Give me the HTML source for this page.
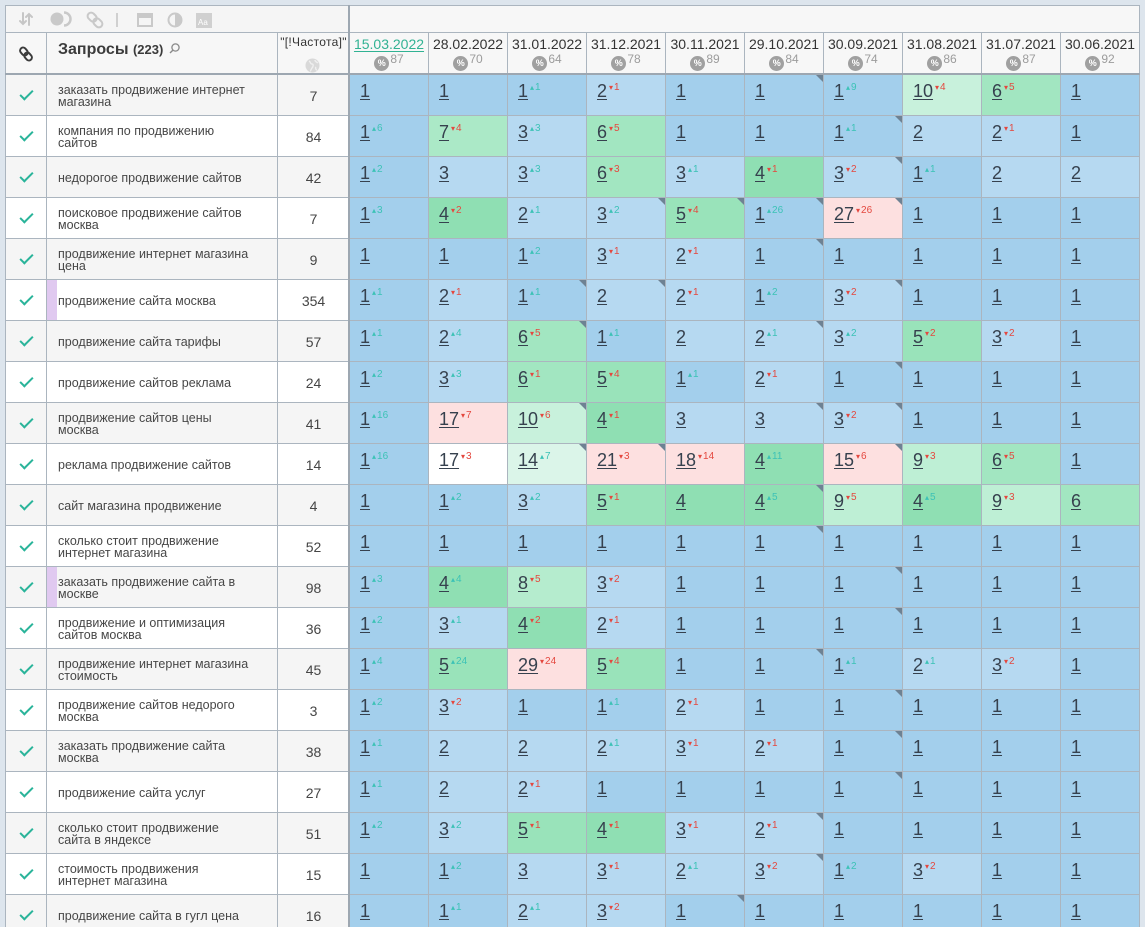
<!DOCTYPE html>
<html><head><meta charset="utf-8"><style>
*{margin:0;padding:0;box-sizing:border-box}
html,body{width:1145px;height:927px;overflow:hidden;background:#dde5ed;font-family:"Liberation Sans","DejaVu Sans",sans-serif}
#g{position:absolute;left:5px;top:5px;width:1135px;height:922px;overflow:hidden;display:grid;grid-template-columns:40px 230px 71px repeat(10,78px);grid-template-rows:26px 41px repeat(21,40px);gap:1px;padding:1px;background:#abb5bf}
#g>div{position:relative;overflow:hidden}
.tb{grid-column:1/4;background:#f5f5f5}
.tr{grid-column:4/14;background:#f7f7f7}
.h{background:#f7f7f7}
.d{text-align:center}
.dt{font-size:14px;line-height:16px;padding-top:3px;color:#333}
.dt.first{color:#31b293;text-decoration:underline;text-underline-offset:2px}
.pc{position:absolute;left:0;right:0;top:21px;text-align:center;font-size:0;white-space:nowrap}
.ci{display:inline-block;width:15px;height:15px;border-radius:50%;background:#a0a0a0;color:#fff;font-size:9px;line-height:15px;font-weight:bold;vertical-align:top;margin-top:2px;text-align:center}
.pn{display:inline-block;font-size:12px;color:#9c9c9c;vertical-align:top;line-height:12px;position:relative;top:-1px;margin-left:1px}
.k{display:flex;align-items:center;justify-content:center}
.k:after{content:"";width:11px;height:5px;border-left:2.6px solid #2ab49a;border-bottom:2.6px solid #2ab49a;transform:rotate(-45deg);margin-top:-3px}
.q{display:flex;align-items:center;padding:2px 0 0 11px;font-size:12.5px;line-height:12px;color:#474747}
.f{display:flex;align-items:center;justify-content:center;padding-top:2px;font-size:14px;color:#454545}
.o{background:#f5f5f5}
.e{background:#fff}
.pb:before{content:"";position:absolute;left:0;top:0;bottom:0;width:10px;background:#e0c9f0}
.c{padding:6px 0 0 10px;font-size:18px;line-height:20px;color:#36414e;white-space:nowrap}
.c u{text-decoration:underline;text-decoration-thickness:1px;text-underline-offset:2px}
.c i{font-style:normal;font-size:10px;position:relative;top:-7px;margin-left:2px}
.c i.u{color:#3cc2b6}
.c i.d{color:#e4483f}
.c i.u:before{content:"▴";font-size:8px;font-family:"DejaVu Sans",sans-serif;margin-right:1px}
.c i.d:before{content:"▾";font-size:8px;font-family:"DejaVu Sans",sans-serif;margin-right:1px}
.t:after{content:"";position:absolute;right:0;top:0;width:0;height:0;border-top:7px solid #6e8293;border-left:7px solid transparent}
.a{background:#a3cfec}
.b{background:#b6d9f1}
.g4{background:#8fdfb3}
.g5{background:#99e3ba}
.g6{background:#a2e6c1}
.g7{background:#abe9c7}
.g8{background:#b5ecce}
.g9{background:#beefd5}
.g10{background:#c8f1dc}
.g14{background:#dbf5e9}
.p{background:#fde0e0}
.w{background:#fff}
.hq{padding:0}
.hq .tt{position:absolute;left:11px;top:7px;font-size:16px;line-height:20px;color:#3b3b3b;font-weight:600;white-space:nowrap}
.hq .cnt{font-size:13px}
.hf .ft{position:absolute;left:0;right:0;top:3px;text-align:center;font-size:12px;line-height:12px;letter-spacing:.3px;color:#333;white-space:nowrap}
.ln{position:absolute;background:#9da7b1}
</style></head><body>
<div id="g">
<div class="tb"><svg width="342" height="26" viewBox="0 0 342 26">
<g stroke="#c6c6c6" stroke-width="2" fill="none" stroke-linecap="round">
<path d="M17 7v11M14 15l3 3 3-3"/>
<path d="M23 19V8M20 11l3-3 3 3"/>
</g>
<circle cx="51" cy="13" r="6.5" fill="#c9c9c9"/>
<path d="M58 6.5a6.5 6.5 0 0 1 0 13" stroke="#c9c9c9" stroke-width="2.5" fill="none"/>
<g fill="none" stroke="#c9c9c9" stroke-width="2" transform="rotate(-45 89 14)"><rect x="85.5" y="5" width="7" height="10" rx="3.5"/><rect x="85.5" y="13" width="7" height="10" rx="3.5"/></g>
<line x1="111" y1="7" x2="111" y2="21" stroke="#c6c6c6" stroke-width="1.6"/>
<rect x="132" y="8" width="14" height="12" fill="none" stroke="#c9c9c9" stroke-width="2"/>
<rect x="132" y="8" width="14" height="4" fill="#c9c9c9"/>
<circle cx="169" cy="14" r="6.5" fill="none" stroke="#c9c9c9" stroke-width="2"/>
<path d="M169 7.5a6.5 6.5 0 0 1 0 13z" fill="#c9c9c9"/>
<rect x="190" y="7" width="16" height="15" fill="#d0d0d0"/>
<text x="192" y="19" font-size="8" fill="#fff" font-family="Liberation Sans,sans-serif">Aa</text>
</svg></div>
<div class="tr"></div>

<div class="h" style="display:flex;align-items:center;justify-content:center"><svg width="14" height="16" viewBox="0 0 14 16"><g fill="none" stroke="#3c3c3c" stroke-width="2" transform="rotate(-40 7 8)"><rect x="4" y="0.5" width="6" height="8.5" rx="3"/><rect x="4" y="7" width="6" height="8.5" rx="3"/></g></svg></div>
<div class="h hq"><div class="tt">Запросы <span class="cnt">(223)</span></div><svg style="position:absolute;left:122px;top:10px" width="11" height="11" viewBox="0 0 11 11"><circle cx="6.5" cy="4.5" r="3.6" fill="none" stroke="#8a8a8a" stroke-width="1.3"/><line x1="3.8" y1="7.2" x2="1" y2="10" stroke="#8a8a8a" stroke-width="1.4"/></svg></div>
<div class="h hf"><div class="ft">"[!Частота]"</div><svg style="position:absolute;left:27px;top:25px" width="15" height="15" viewBox="0 0 15 15"><circle cx="7.5" cy="7.5" r="7" fill="#d9d9d9"/><path d="M4 3c2 1 1 3 3 3s1 3 0 4-1 3-2 3M10 2c0 2 2 2 3 3M11 9c-1 1 0 3 1 3" fill="none" stroke="#efefef" stroke-width="1.4"/></svg></div>
<div class="h d"><div class="dt first">15.03.2022</div><div class="pc"><span class="ci">%</span><span class="pn">87</span></div></div>
<div class="h d"><div class="dt">28.02.2022</div><div class="pc"><span class="ci">%</span><span class="pn">70</span></div></div>
<div class="h d"><div class="dt">31.01.2022</div><div class="pc"><span class="ci">%</span><span class="pn">64</span></div></div>
<div class="h d"><div class="dt">31.12.2021</div><div class="pc"><span class="ci">%</span><span class="pn">78</span></div></div>
<div class="h d"><div class="dt">30.11.2021</div><div class="pc"><span class="ci">%</span><span class="pn">89</span></div></div>
<div class="h d"><div class="dt">29.10.2021</div><div class="pc"><span class="ci">%</span><span class="pn">84</span></div></div>
<div class="h d"><div class="dt">30.09.2021</div><div class="pc"><span class="ci">%</span><span class="pn">74</span></div></div>
<div class="h d"><div class="dt">31.08.2021</div><div class="pc"><span class="ci">%</span><span class="pn">86</span></div></div>
<div class="h d"><div class="dt">31.07.2021</div><div class="pc"><span class="ci">%</span><span class="pn">87</span></div></div>
<div class="h d"><div class="dt">30.06.2021</div><div class="pc"><span class="ci">%</span><span class="pn">92</span></div></div>

<!-- R1 -->
<div class="k o"></div><div class="q o"><span>заказать продвижение интернет<br>магазина</span></div><div class="f o">7</div>
<div class="c a"><u>1</u></div><div class="c a"><u>1</u></div><div class="c a"><u>1</u><i class="u">1</i></div><div class="c b"><u>2</u><i class="d">1</i></div><div class="c a"><u>1</u></div><div class="c a t"><u>1</u></div><div class="c a"><u>1</u><i class="u">9</i></div><div class="c g10"><u>10</u><i class="d">4</i></div><div class="c g6"><u>6</u><i class="d">5</i></div><div class="c a"><u>1</u></div>
<!-- R2 -->
<div class="k e"></div><div class="q e"><span>компания по продвижению<br>сайтов</span></div><div class="f e">84</div>
<div class="c a"><u>1</u><i class="u">6</i></div><div class="c g7"><u>7</u><i class="d">4</i></div><div class="c b"><u>3</u><i class="u">3</i></div><div class="c g6"><u>6</u><i class="d">5</i></div><div class="c a"><u>1</u></div><div class="c a"><u>1</u></div><div class="c a t"><u>1</u><i class="u">1</i></div><div class="c b"><u>2</u></div><div class="c b"><u>2</u><i class="d">1</i></div><div class="c a"><u>1</u></div>
<!-- R3 -->
<div class="k o"></div><div class="q o"><span>недорогое продвижение сайтов</span></div><div class="f o">42</div>
<div class="c a"><u>1</u><i class="u">2</i></div><div class="c b"><u>3</u></div><div class="c b"><u>3</u><i class="u">3</i></div><div class="c g6"><u>6</u><i class="d">3</i></div><div class="c b"><u>3</u><i class="u">1</i></div><div class="c g4"><u>4</u><i class="d">1</i></div><div class="c b t"><u>3</u><i class="d">2</i></div><div class="c a"><u>1</u><i class="u">1</i></div><div class="c b"><u>2</u></div><div class="c b"><u>2</u></div>
<!-- R4 -->
<div class="k e"></div><div class="q e"><span>поисковое продвижение сайтов<br>москва</span></div><div class="f e">7</div>
<div class="c a"><u>1</u><i class="u">3</i></div><div class="c g4"><u>4</u><i class="d">2</i></div><div class="c b"><u>2</u><i class="u">1</i></div><div class="c b t"><u>3</u><i class="u">2</i></div><div class="c g5 t"><u>5</u><i class="d">4</i></div><div class="c a t"><u>1</u><i class="u">26</i></div><div class="c p t"><u>27</u><i class="d">26</i></div><div class="c a"><u>1</u></div><div class="c a"><u>1</u></div><div class="c a"><u>1</u></div>
<!-- R5 -->
<div class="k o"></div><div class="q o"><span>продвижение интернет магазина<br>цена</span></div><div class="f o">9</div>
<div class="c a"><u>1</u></div><div class="c a"><u>1</u></div><div class="c a"><u>1</u><i class="u">2</i></div><div class="c b"><u>3</u><i class="d">1</i></div><div class="c b"><u>2</u><i class="d">1</i></div><div class="c a t"><u>1</u></div><div class="c a"><u>1</u></div><div class="c a"><u>1</u></div><div class="c a"><u>1</u></div><div class="c a"><u>1</u></div>
<!-- R6 -->
<div class="k e"></div><div class="q e pb"><span>продвижение сайта москва</span></div><div class="f e">354</div>
<div class="c a"><u>1</u><i class="u">1</i></div><div class="c b"><u>2</u><i class="d">1</i></div><div class="c a t"><u>1</u><i class="u">1</i></div><div class="c b t"><u>2</u></div><div class="c b"><u>2</u><i class="d">1</i></div><div class="c a"><u>1</u><i class="u">2</i></div><div class="c b t"><u>3</u><i class="d">2</i></div><div class="c a"><u>1</u></div><div class="c a"><u>1</u></div><div class="c a"><u>1</u></div>
<!-- R7 -->
<div class="k o"></div><div class="q o"><span>продвижение сайта тарифы</span></div><div class="f o">57</div>
<div class="c a"><u>1</u><i class="u">1</i></div><div class="c b"><u>2</u><i class="u">4</i></div><div class="c g6 t"><u>6</u><i class="d">5</i></div><div class="c a"><u>1</u><i class="u">1</i></div><div class="c b"><u>2</u></div><div class="c b t"><u>2</u><i class="u">1</i></div><div class="c b"><u>3</u><i class="u">2</i></div><div class="c g5"><u>5</u><i class="d">2</i></div><div class="c b"><u>3</u><i class="d">2</i></div><div class="c a"><u>1</u></div>
<!-- R8 -->
<div class="k e"></div><div class="q e"><span>продвижение сайтов реклама</span></div><div class="f e">24</div>
<div class="c a"><u>1</u><i class="u">2</i></div><div class="c b"><u>3</u><i class="u">3</i></div><div class="c g6"><u>6</u><i class="d">1</i></div><div class="c g5"><u>5</u><i class="d">4</i></div><div class="c a"><u>1</u><i class="u">1</i></div><div class="c b"><u>2</u><i class="d">1</i></div><div class="c a t"><u>1</u></div><div class="c a"><u>1</u></div><div class="c a"><u>1</u></div><div class="c a"><u>1</u></div>
<!-- R9 -->
<div class="k o"></div><div class="q o"><span>продвижение сайтов цены<br>москва</span></div><div class="f o">41</div>
<div class="c a"><u>1</u><i class="u">16</i></div><div class="c p"><u>17</u><i class="d">7</i></div><div class="c g10 t"><u>10</u><i class="d">6</i></div><div class="c g4"><u>4</u><i class="d">1</i></div><div class="c b"><u>3</u></div><div class="c b t"><u>3</u></div><div class="c b t"><u>3</u><i class="d">2</i></div><div class="c a"><u>1</u></div><div class="c a"><u>1</u></div><div class="c a"><u>1</u></div>
<!-- R10 -->
<div class="k e"></div><div class="q e"><span>реклама продвижение сайтов</span></div><div class="f e">14</div>
<div class="c a"><u>1</u><i class="u">16</i></div><div class="c w"><u>17</u><i class="d">3</i></div><div class="c g14 t"><u>14</u><i class="u">7</i></div><div class="c p t"><u>21</u><i class="d">3</i></div><div class="c p"><u>18</u><i class="d">14</i></div><div class="c g4"><u>4</u><i class="u">11</i></div><div class="c p t"><u>15</u><i class="d">6</i></div><div class="c g9"><u>9</u><i class="d">3</i></div><div class="c g6"><u>6</u><i class="d">5</i></div><div class="c a"><u>1</u></div>
<!-- R11 -->
<div class="k o"></div><div class="q o"><span>сайт магазина продвижение</span></div><div class="f o">4</div>
<div class="c a"><u>1</u></div><div class="c a"><u>1</u><i class="u">2</i></div><div class="c b"><u>3</u><i class="u">2</i></div><div class="c g5"><u>5</u><i class="d">1</i></div><div class="c g4"><u>4</u></div><div class="c g4 t"><u>4</u><i class="u">5</i></div><div class="c g9"><u>9</u><i class="d">5</i></div><div class="c g4"><u>4</u><i class="u">5</i></div><div class="c g9"><u>9</u><i class="d">3</i></div><div class="c g6"><u>6</u></div>
<!-- R12 -->
<div class="k e"></div><div class="q e"><span>сколько стоит продвижение<br>интернет магазина</span></div><div class="f e">52</div>
<div class="c a"><u>1</u></div><div class="c a"><u>1</u></div><div class="c a"><u>1</u></div><div class="c a"><u>1</u></div><div class="c a"><u>1</u></div><div class="c a t"><u>1</u></div><div class="c a"><u>1</u></div><div class="c a"><u>1</u></div><div class="c a"><u>1</u></div><div class="c a"><u>1</u></div>
<!-- R13 -->
<div class="k o"></div><div class="q o pb"><span>заказать продвижение сайта в<br>москве</span></div><div class="f o">98</div>
<div class="c a"><u>1</u><i class="u">3</i></div><div class="c g4"><u>4</u><i class="u">4</i></div><div class="c g8"><u>8</u><i class="d">5</i></div><div class="c b"><u>3</u><i class="d">2</i></div><div class="c a"><u>1</u></div><div class="c a"><u>1</u></div><div class="c a t"><u>1</u></div><div class="c a"><u>1</u></div><div class="c a"><u>1</u></div><div class="c a"><u>1</u></div>
<!-- R14 -->
<div class="k e"></div><div class="q e"><span>продвижение и оптимизация<br>сайтов москва</span></div><div class="f e">36</div>
<div class="c a"><u>1</u><i class="u">2</i></div><div class="c b"><u>3</u><i class="u">1</i></div><div class="c g4"><u>4</u><i class="d">2</i></div><div class="c b"><u>2</u><i class="d">1</i></div><div class="c a"><u>1</u></div><div class="c a"><u>1</u></div><div class="c a t"><u>1</u></div><div class="c a"><u>1</u></div><div class="c a"><u>1</u></div><div class="c a"><u>1</u></div>
<!-- R15 -->
<div class="k o"></div><div class="q o"><span>продвижение интернет магазина<br>стоимость</span></div><div class="f o">45</div>
<div class="c a"><u>1</u><i class="u">4</i></div><div class="c g5"><u>5</u><i class="u">24</i></div><div class="c p"><u>29</u><i class="d">24</i></div><div class="c g5"><u>5</u><i class="d">4</i></div><div class="c a"><u>1</u></div><div class="c a t"><u>1</u></div><div class="c a"><u>1</u><i class="u">1</i></div><div class="c b"><u>2</u><i class="u">1</i></div><div class="c b"><u>3</u><i class="d">2</i></div><div class="c a"><u>1</u></div>
<!-- R16 -->
<div class="k e"></div><div class="q e"><span>продвижение сайтов недорого<br>москва</span></div><div class="f e">3</div>
<div class="c a"><u>1</u><i class="u">2</i></div><div class="c b"><u>3</u><i class="d">2</i></div><div class="c a"><u>1</u></div><div class="c a"><u>1</u><i class="u">1</i></div><div class="c b"><u>2</u><i class="d">1</i></div><div class="c a"><u>1</u></div><div class="c a t"><u>1</u></div><div class="c a"><u>1</u></div><div class="c a"><u>1</u></div><div class="c a"><u>1</u></div>
<!-- R17 -->
<div class="k o"></div><div class="q o"><span>заказать продвижение сайта<br>москва</span></div><div class="f o">38</div>
<div class="c a"><u>1</u><i class="u">1</i></div><div class="c b"><u>2</u></div><div class="c b"><u>2</u></div><div class="c b"><u>2</u><i class="u">1</i></div><div class="c b"><u>3</u><i class="d">1</i></div><div class="c b"><u>2</u><i class="d">1</i></div><div class="c a t"><u>1</u></div><div class="c a"><u>1</u></div><div class="c a"><u>1</u></div><div class="c a"><u>1</u></div>
<!-- R18 -->
<div class="k e"></div><div class="q e"><span>продвижение сайта услуг</span></div><div class="f e">27</div>
<div class="c a"><u>1</u><i class="u">1</i></div><div class="c b"><u>2</u></div><div class="c b"><u>2</u><i class="d">1</i></div><div class="c a"><u>1</u></div><div class="c a"><u>1</u></div><div class="c a"><u>1</u></div><div class="c a t"><u>1</u></div><div class="c a"><u>1</u></div><div class="c a"><u>1</u></div><div class="c a"><u>1</u></div>
<!-- R19 -->
<div class="k o"></div><div class="q o"><span>сколько стоит продвижение<br>сайта в яндексе</span></div><div class="f o">51</div>
<div class="c a"><u>1</u><i class="u">2</i></div><div class="c b"><u>3</u><i class="u">2</i></div><div class="c g5"><u>5</u><i class="d">1</i></div><div class="c g4"><u>4</u><i class="d">1</i></div><div class="c b"><u>3</u><i class="d">1</i></div><div class="c b t"><u>2</u><i class="d">1</i></div><div class="c a"><u>1</u></div><div class="c a"><u>1</u></div><div class="c a"><u>1</u></div><div class="c a"><u>1</u></div>
<!-- R20 -->
<div class="k e"></div><div class="q e"><span>стоимость продвижения<br>интернет магазина</span></div><div class="f e">15</div>
<div class="c a"><u>1</u></div><div class="c a"><u>1</u><i class="u">2</i></div><div class="c b"><u>3</u></div><div class="c b"><u>3</u><i class="d">1</i></div><div class="c b"><u>2</u><i class="u">1</i></div><div class="c b t"><u>3</u><i class="d">2</i></div><div class="c a"><u>1</u><i class="u">2</i></div><div class="c b"><u>3</u><i class="d">2</i></div><div class="c a"><u>1</u></div><div class="c a"><u>1</u></div>
<!-- R21 -->
<div class="k o"></div><div class="q o"><span>продвижение сайта в гугл цена</span></div><div class="f o">16</div>
<div class="c a"><u>1</u></div><div class="c a"><u>1</u><i class="u">1</i></div><div class="c b"><u>2</u><i class="u">1</i></div><div class="c b"><u>3</u><i class="d">2</i></div><div class="c a t"><u>1</u></div><div class="c a"><u>1</u></div><div class="c a"><u>1</u></div><div class="c a"><u>1</u></div><div class="c a"><u>1</u></div><div class="c a"><u>1</u></div>
</div>
<div class="ln" style="left:348px;top:5px;width:2px;height:922px"></div>
<div class="ln" style="left:5px;top:73px;width:1135px;height:2px"></div>
</body></html>
